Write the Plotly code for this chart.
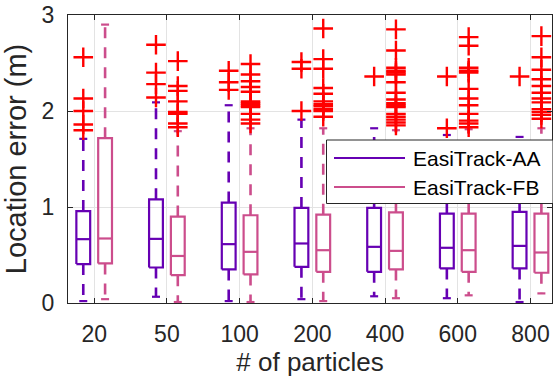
import plotly.graph_objects as go

categories = ["20", "50", "100", "200", "400", "600", "800"]
positions = [1, 2, 3, 4, 5, 6, 7]

aa_low = [0.02, 0.065, 0.02, 0.04, 0.07, 0.05, 0.01]
aa_q1 = [0.405, 0.37, 0.35, 0.377, 0.325, 0.36, 0.36]
aa_med = [0.665, 0.668, 0.613, 0.62, 0.585, 0.575, 0.595]
aa_q3 = [0.958, 1.08, 1.046, 0.99, 0.99, 0.93, 0.95]
aa_high = [1.71, 2.09, 2.06, 1.91, 1.82, 1.75, 1.73]
aa_out = [
    [2.56, 2.13, 2.00, 1.86, 1.80],
    [2.69, 2.40, 2.28, 2.14],
    [2.42, 2.30, 2.22],
    [2.51, 2.44, 2.00],
    [2.36],
    [2.36, 1.82],
    [2.36],
]

fb_low = [0.04, 0.01, 0.01, 0.02, 0.05, 0.08, 0.10]
fb_q1 = [0.412, 0.29, 0.298, 0.325, 0.35, 0.325, 0.315]
fb_med = [0.672, 0.49, 0.533, 0.55, 0.543, 0.55, 0.526]
fb_q3 = [1.717, 0.90, 0.914, 0.92, 0.945, 0.93, 0.93]
fb_high = [2.90, 1.79, 1.82, 1.82, 1.80, 1.81, 1.82]
fb_out = [
    [],
    [2.52, 2.26, 2.21, 2.10, 1.99, 1.97, 1.87, 1.83],
    [2.49, 2.38, 2.31, 2.25, 2.20, 2.10, 2.08, 2.06, 2.04, 1.97, 1.91, 1.87],
    [2.86, 2.54, 2.44, 2.24, 2.18, 2.10, 2.07, 2.05, 2.02, 2.00, 1.94],
    [2.85, 2.63, 2.45, 2.42, 2.40, 2.38, 2.30, 2.19, 2.12, 2.08, 2.06, 2.04,
     1.97, 1.94, 1.91, 1.88, 1.85],
    [2.77, 2.68, 2.45, 2.42, 2.40, 2.23, 2.13, 2.06, 1.97, 1.90, 1.87, 1.83],
    [2.78, 2.56, 2.43, 2.33, 2.26, 2.19, 2.13, 2.09, 2.02, 1.99, 1.96, 1.92],
]

series = [
    ("EasiTrack-AA", "#6600B3", -0.15, aa_low, aa_q1, aa_med, aa_q3, aa_high, aa_out),
    ("EasiTrack-FB", "#CC4D8C", 0.15, fb_low, fb_q1, fb_med, fb_q3, fb_high, fb_out),
]

BOX_HW = 0.095
CAP_HW = 0.055
AXIS_COL = "#262626"
FONT = "Liberation Sans, Arial, Helvetica, sans-serif"

fig = go.Figure()

for name, color, off, low, q1, med, q3, high, outs in series:
    sx, sy = [], []   # solid: boxes, medians, caps
    wx, wy = [], []   # dashed whiskers
    ox, oy = [], []   # outliers
    for i, p in enumerate(positions):
        c = p + off
        sx += [c - BOX_HW, c + BOX_HW, c + BOX_HW, c - BOX_HW, c - BOX_HW, None]
        sy += [q1[i], q1[i], q3[i], q3[i], q1[i], None]
        sx += [c - BOX_HW, c + BOX_HW, None]
        sy += [med[i], med[i], None]
        sx += [c - CAP_HW, c + CAP_HW, None, c - CAP_HW, c + CAP_HW, None]
        sy += [high[i], high[i], None, low[i], low[i], None]
        wx += [c, c, None, c, c, None]
        wy += [q3[i], high[i], None, q1[i], low[i], None]
        ox += [c] * len(outs[i])
        oy += outs[i]
    fig.add_trace(go.Scatter(x=wx, y=wy, mode="lines", name=name, showlegend=False,
                             line=dict(color=color, width=2.6, dash="11px,9px"),
                             hoverinfo="skip"))
    fig.add_trace(go.Scatter(x=sx, y=sy, mode="lines", name=name, showlegend=False,
                             line=dict(color=color, width=2.2), hoverinfo="skip"))
    fig.add_trace(go.Scatter(x=ox, y=oy, mode="markers", name=name + " outliers",
                             showlegend=False,
                             marker=dict(symbol="cross-thin-open", size=14,
                                         color="#FF0000",
                                         line=dict(color="#FF0000", width=2.4))))

# Manual MATLAB-style legend
leg_x0, leg_x1 = 326.5, 553
leg_y0, leg_y1 = 140, 203.5
W, H = 553, 378
L, R, T, B = 68, 1, 15, 75
pw, ph = W - L - R, H - T - B


def px(x):
    return (x - L) / pw


def py(y):
    return 1 - (y - T) / ph


shapes = [dict(type="rect", xref="paper", yref="paper", layer="above",
               x0=px(leg_x0), x1=px(leg_x1), y0=py(leg_y1), y1=py(leg_y0),
               line=dict(color=AXIS_COL, width=1), fillcolor="white")]
annotations = []
for k, (name, color, *_rest) in enumerate(series):
    yy = [158, 187][k]
    shapes.append(dict(type="line", xref="paper", yref="paper", layer="above",
                       x0=px(334), x1=px(405), y0=py(yy), y1=py(yy),
                       line=dict(color=color, width=2)))
    annotations.append(dict(text=name, xref="paper", yref="paper",
                            x=px(410.5), y=py(yy), xanchor="left", yanchor="middle",
                            showarrow=False,
                            font=dict(size=21, color="#000000", family=FONT)))

fig.update_layout(
    width=W, height=H,
    margin=dict(l=L, r=R, t=T, b=B, pad=0),
    plot_bgcolor="white", paper_bgcolor="white",
    shapes=shapes, annotations=annotations,
    showlegend=False,
    font=dict(family=FONT, color=AXIS_COL),
    xaxis=dict(range=[0.640, 7.296], tickvals=positions, ticktext=categories,
               showgrid=True, gridcolor="#e3e3e3", gridwidth=1, zeroline=False,
               showline=True, mirror="ticks", linecolor=AXIS_COL, linewidth=1,
               ticks="inside", ticklen=5, tickcolor=AXIS_COL,
               tickfont=dict(size=23, color=AXIS_COL, family=FONT),
               ticklabelstandoff=10,
               title=dict(text="# of particles", standoff=6,
                          font=dict(size=26, color=AXIS_COL, family=FONT))),
    yaxis=dict(range=[0, 3], tickvals=[0, 1, 2, 3],
               showgrid=True, gridcolor="#e3e3e3", gridwidth=1, zeroline=False,
               showline=True, mirror="ticks", linecolor=AXIS_COL, linewidth=1,
               ticks="inside", ticklen=5, tickcolor=AXIS_COL,
               tickfont=dict(size=23, color=AXIS_COL, family=FONT),
               ticklabelstandoff=8,
               title=dict(text="Location error (m)", standoff=6,
                          font=dict(size=29, color=AXIS_COL, family=FONT))),
)

fig.write_html("out.html", config={"displayModeBar": False},
               post_script="document.body.style.margin='0';document.body.style.overflow='hidden';")
